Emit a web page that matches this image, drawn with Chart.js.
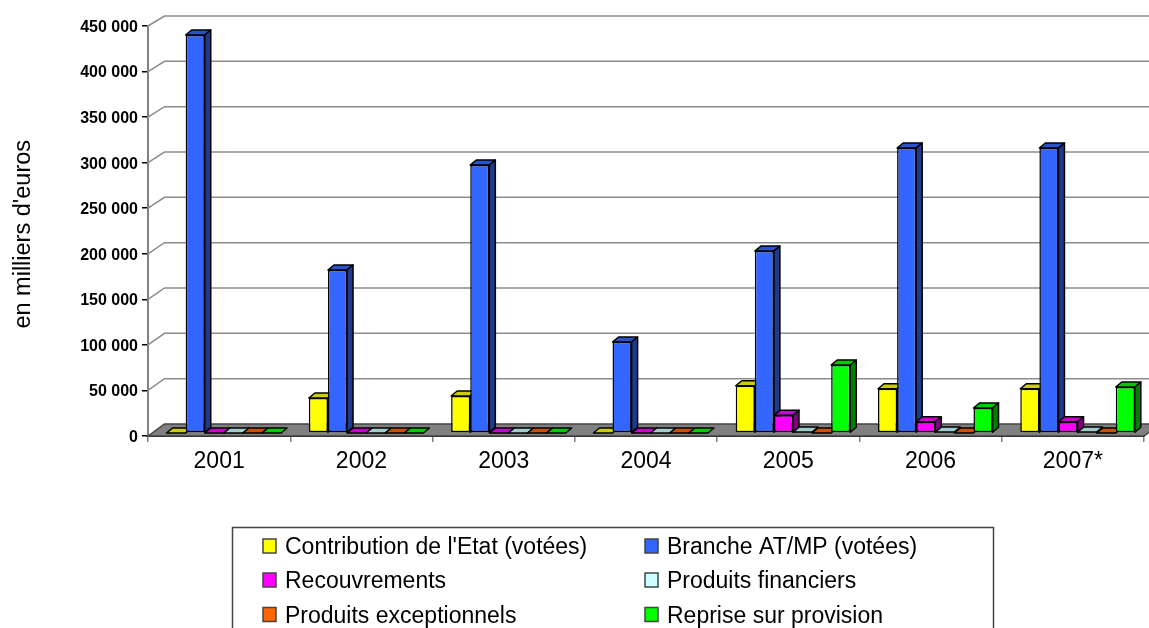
<!DOCTYPE html>
<html>
<head>
<meta charset="utf-8">
<style>
  body { margin: 0; background: #fff; }
  canvas { display: block; }
</style>
<script src="https://cdn.jsdelivr.net/npm/chart.js@4/dist/chart.umd.min.js"></script>
</head>
<body>
<canvas id="chart" width="1149" height="628"></canvas>
<script>
// Valeurs (milliers d'euros)
const annees = ["2001", "2002", "2003", "2004", "2005", "2006", "2007*"];
const contributionEtat = [0, 38400, 40600, 0, 51900, 48600, 48600];
const brancheATMP = [436800, 178900, 294100, 99900, 199700, 312800, 312800];
const recouvrements = [0, 0, 0, 0, 19400, 12400, 12400];
const produitsFinanciers = [0, 0, 0, 0, 1000, 1000, 1000];
const produitsExceptionnels = [0, 0, 0, 0, 0, 0, 0];
const repriseProvision = [0, 0, 0, 0, 74600, 27400, 50500];

const nomsSeries = ["Contribution de l'Etat (votées)", "Branche AT/MP (votées)", "Recouvrements", "Produits financiers", "Produits exceptionnels", "Reprise sur provision"];
const valeursSeries = [contributionEtat, brancheATMP, recouvrements, produitsFinanciers, produitsExceptionnels, repriseProvision];
const couleurs = ["#FFFF00", "#3366FF", "#FF00FF", "#CCFFFF", "#FF6600", "#00FF00"];
const couleursDessus = ["#CCCC00", "#2952CC", "#CC00CC", "#A3CCCC", "#CC5200", "#00CC00"];
const couleursCote = ["#808000", "#1F3A8C", "#800080", "#668080", "#803300", "#008000"];

const police = "'Liberation Sans', Arial, sans-serif";

// Profondeur du faux 3D
const murDx = 16.5, murDyBas = 12, murDyHaut = 10;
const planDx = 4.7, planDy = -3;
const barreDx = 6, barreDy = 5;

function face(ctx, pts, couleur) {
  ctx.beginPath();
  pts.forEach((p, i) => i ? ctx.lineTo(p[0], p[1]) : ctx.moveTo(p[0], p[1]));
  ctx.closePath();
  ctx.fillStyle = couleur;
  ctx.fill();
  ctx.stroke();
}

// Murs, sol et barres en perspective
const plugin3D = {
  id: "plugin3D",
  beforeDatasetsDraw(chart) {
    const { ctx, chartArea: a, scales } = chart;
    ctx.save();

    // quadrillage sur le mur (le recul diminue un peu vers le haut)
    ctx.strokeStyle = "#8c8c8c";
    ctx.lineWidth = 1.5;
    scales.y.ticks.forEach(t => {
      if (t.value === 0) return;
      const y = scales.y.getPixelForValue(t.value);
      const dy = murDyBas - (murDyBas - murDyHaut) * t.value / scales.y.max;
      ctx.beginPath();
      ctx.moveTo(a.left, y);
      ctx.lineTo(a.left + murDx, y - dy);
      ctx.lineTo(a.right + murDx, y - dy);
      ctx.stroke();
    });

    // sol
    ctx.beginPath();
    ctx.moveTo(a.left, a.bottom);
    ctx.lineTo(a.left + murDx, a.bottom - murDyBas);
    ctx.lineTo(a.right + murDx, a.bottom - murDyBas);
    ctx.lineTo(a.right, a.bottom);
    ctx.closePath();
    ctx.fillStyle = "#808080";
    ctx.fill();
    ctx.strokeStyle = "#444";
    ctx.lineWidth = 1.5;
    ctx.stroke();

    // barres : de gauche a droite pour que chacune recouvre le cote de la precedente
    ctx.translate(planDx, planDy);
    ctx.strokeStyle = "#000";
    ctx.lineWidth = 1.5;
    ctx.lineJoin = "round";
    annees.forEach((annee, j) => {
      nomsSeries.forEach((nom, i) => {
        const el = chart.getDatasetMeta(i).data[j];
        const g = el.x - el.width / 2, d = el.x + el.width / 2;
        face(ctx, [[g, el.y], [g + barreDx, el.y - barreDy], [d + barreDx, el.y - barreDy], [d, el.y]], couleursDessus[i]);
        if (el.base - el.y > 0.5) {
          face(ctx, [[d, el.y], [d + barreDx, el.y - barreDy], [d + barreDx, el.base - barreDy], [d, el.base]], couleursCote[i]);
          el.draw(ctx);
        }
      });
    });
    ctx.restore();
    return false;
  }
};

// Legende encadree sur deux colonnes, coupee en bas comme l'original
const colonnesLegende = [263, 645];
const lignesLegende = [546, 580, 614.5];
const pluginLegende = {
  id: "pluginLegende",
  afterDraw(chart) {
    const ctx = chart.ctx;
    ctx.save();
    ctx.strokeStyle = "#444";
    ctx.lineWidth = 1.5;
    ctx.strokeRect(232.5, 527.5, 761, 120);
    ctx.font = "23px " + police;
    ctx.textBaseline = "middle";
    ctx.textAlign = "left";
    nomsSeries.forEach((nom, i) => {
      const x = colonnesLegende[i % 2], y = lignesLegende[Math.floor(i / 2)];
      ctx.fillStyle = couleurs[i];
      ctx.fillRect(x, y - 7, 13, 14);
      ctx.strokeRect(x, y - 7, 13, 14);
      ctx.fillStyle = "#000";
      ctx.fillText(nom, x + 22, y + 2);
    });
    ctx.restore();
  }
};

new Chart(document.getElementById("chart"), {
  type: "bar",
  data: {
    labels: annees,
    datasets: nomsSeries.map((nom, i) => ({
      label: nom,
      data: valeursSeries[i],
      backgroundColor: couleurs[i],
      borderColor: "#000",
      borderWidth: 1.5,
      borderSkipped: false,
      categoryPercentage: 0.805,
      barPercentage: 1
    }))
  },
  options: {
    responsive: false,
    animation: false,
    layout: { padding: { top: 26, right: 5, bottom: 0, left: 0 } },
    plugins: {
      legend: { display: false },
      tooltip: { enabled: false }
    },
    scales: {
      x: {
        afterFit(s) { s.height = 192; },
        grid: { drawOnChartArea: false, color: "#808080", tickLength: 6, lineWidth: 1.5 },
        border: { color: "#111", width: 2 },
        ticks: { color: "#000", font: { family: police, size: 23 }, padding: 6, maxRotation: 0 }
      },
      y: {
        min: 0,
        max: 450000,
        afterFit(s) { s.width = 148; },
        grid: { drawOnChartArea: false, color: "#000", tickLength: 6, lineWidth: 1.5 },
        border: { color: "#808080", width: 2 },
        ticks: {
          stepSize: 50000,
          color: "#000",
          padding: 4,
          labelOffset: 1.5,
          font: { family: police, size: 16, weight: "bold" },
          callback: v => String(v).replace(/\B(?=(\d{3})+$)/g, " ")
        },
        title: {
          display: true,
          // l'espace final descend un peu le titre centre, comme sur l'original
          text: "en milliers d'euros ",
          color: "#000",
          font: { family: police, size: 23.5 },
          padding: { top: 9, bottom: 0 }
        }
      }
    }
  },
  plugins: [plugin3D, pluginLegende]
});
</script>
</body>
</html>
